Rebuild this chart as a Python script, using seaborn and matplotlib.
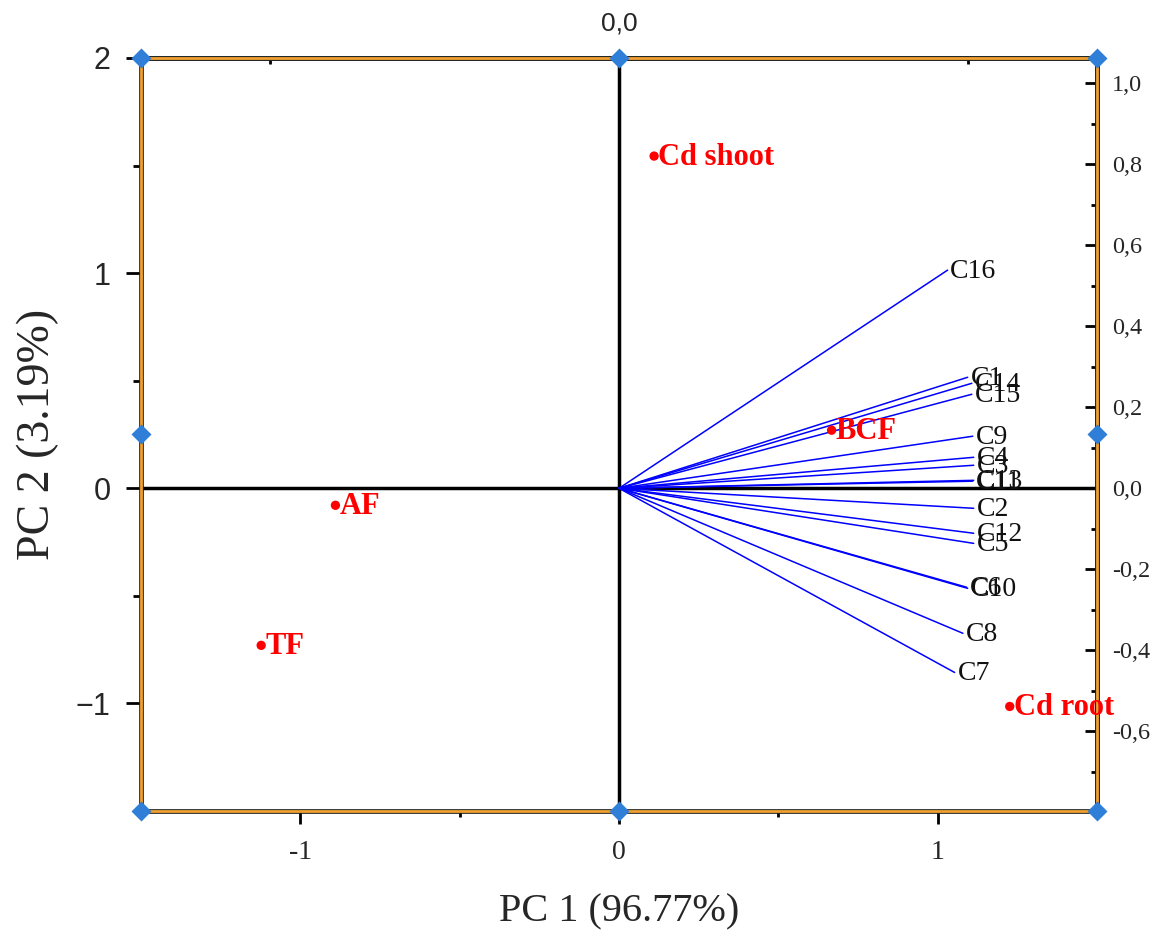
"""
PCA biplot (PC1 vs PC2) of Cd uptake indices and C1-C16 loadings.
"""
import numpy as np
import pandas as pd
import matplotlib
matplotlib.use("Agg")
import matplotlib.pyplot as plt
import matplotlib.patheffects as pe
from matplotlib.ticker import FixedLocator, FuncFormatter
import seaborn as sns

# Loadings: end point of every blue vector (PC1, PC2)
var_names = ["C1", "C2", "C3", "C4", "C5", "C6", "C7", "C8",
             "C9", "C10", "C11", "C12", "C13", "C14", "C15", "C16"]
var_pc1 = [1.094, 1.113, 1.113, 1.113, 1.113, 1.091, 1.053, 1.079,
           1.110, 1.094, 1.110, 1.113, 1.113, 1.107, 1.107, 1.031]
var_pc2 = [0.516, -0.093, 0.107, 0.144, -0.256, -0.460, -0.856, -0.674,
           0.242, -0.465, 0.033, -0.209, 0.037, 0.488, 0.437, 1.014]

# Scores: red points
score_names = ["Cd shoot", "BCF", "AF", "TF", "Cd root"]
score_pc1 = [0.110, 0.667, -0.890, -1.123, 1.226]
score_pc2 = [1.544, 0.270, -0.079, -0.730, -1.014]

xlabel = "PC 1 (96.77%)"
ylabel = "PC 2 (3.19%)"

# scale of the secondary (loading) axes relative to the main ones
k_right = 0.531
k_top = 0.456

SERIF = "Liberation Serif"
SANS = "Liberation Sans"
ORANGE = "#F0A030"
HANDLE = "#2F7FD8"

sns.set_style("white")
plt.rcParams["font.family"] = [SERIF, "DejaVu Serif"]
plt.rcParams["axes.unicode_minus"] = False

# long format table for the vectors: origin -> end point for each variable
rows = []
for name, x, y in zip(var_names, var_pc1, var_pc2):
    rows.append({"var": name, "pc1": 0.0, "pc2": 0.0})
    rows.append({"var": name, "pc1": x, "pc2": y})
vec_df = pd.DataFrame(rows)
score_df = pd.DataFrame({"name": score_names, "pc1": score_pc1, "pc2": score_pc2})

fig = plt.figure(figsize=(11.56, 9.32), dpi=100)
ax = fig.add_axes([0.122, 0.1298, 0.827, 0.808])

ax.axhline(0, color="black", lw=2.5, zorder=1)
ax.axvline(0, color="black", lw=2.5, zorder=1)

sns.lineplot(data=vec_df, x="pc1", y="pc2", units="var", estimator=None,
             sort=False, color="blue", lw=1.1, ax=ax, zorder=2)
sns.scatterplot(data=score_df, x="pc1", y="pc2", color="red", s=45,
                edgecolor="none", ax=ax, zorder=5, legend=False)

for name, x, y in zip(var_names, var_pc1, var_pc2):
    ax.annotate(name, (x, y), xytext=(2, -1), textcoords="offset points",
                ha="left", va="center", fontsize=20, color="#111111",
                family=SERIF, zorder=4)
for name, x, y in zip(score_names, score_pc1, score_pc2):
    ax.annotate(name, (x, y), xytext=(3, -1), textcoords="offset points",
                ha="left", va="center", fontsize=22, color="red",
                fontweight="bold", family=SERIF, zorder=6)

ax.set_xlim(-1.5, 1.5)
ax.set_ylim(-1.5, 2.0)

ax.xaxis.set_major_locator(FixedLocator([-1, 0, 1]))
ax.xaxis.set_minor_locator(FixedLocator([-0.5, 0.5]))
ax.yaxis.set_major_locator(FixedLocator([-1, 0, 1, 2]))
ax.yaxis.set_minor_locator(FixedLocator([-0.5, 0.5, 1.5]))
ax.xaxis.set_major_formatter(FuncFormatter(lambda v, p: f"{v:g}"))
ax.yaxis.set_major_formatter(FuncFormatter(lambda v, p: f"{v:g}".replace("-", "\u2212")))

ax.tick_params(left=True, bottom=True, top=False, right=False, which="both")
ax.tick_params(axis="x", which="major", direction="out", length=9, width=2,
               pad=12, labelsize=20, color="black")
ax.tick_params(axis="x", which="minor", direction="out", length=4, width=2,
               color="black")
ax.tick_params(axis="y", which="major", direction="out", length=11, width=2,
               pad=11, labelsize=22, color="black")
ax.tick_params(axis="y", which="minor", direction="out", length=6, width=2,
               color="black")
for lab in ax.get_yticklabels():
    lab.set_family(SANS)

ax.set_xlabel(xlabel, fontsize=29, labelpad=20, family=SERIF)
ax.set_ylabel(ylabel, fontsize=33, labelpad=12, family=SERIF)

# loading axes on the right and top
secy = ax.secondary_yaxis("right", functions=(lambda v: v * k_right,
                                              lambda v: v / k_right))
secy.yaxis.set_major_locator(FixedLocator(np.round(np.arange(-0.6, 1.01, 0.2), 1)))
secy.yaxis.set_minor_locator(FixedLocator(np.round(np.arange(-0.7, 1.06, 0.1), 1)))
secy.yaxis.set_major_formatter(FuncFormatter(lambda v, p: f"{v:.1f}".replace(".", ",")))
secy.tick_params(which="major", direction="in", length=9, width=2, pad=11,
                 labelsize=17.5, color="black")
secy.tick_params(which="minor", direction="in", length=4, width=2, color="black")

secx = ax.secondary_xaxis("top", functions=(lambda v: v * k_top,
                                            lambda v: v / k_top))
secx.xaxis.set_major_locator(FixedLocator([0.0]))
secx.xaxis.set_minor_locator(FixedLocator([-0.5, 0.5]))
secx.xaxis.set_major_formatter(FuncFormatter(lambda v, p: f"{v:.1f}".replace(".", ",")))
secx.tick_params(which="major", direction="in", length=6, width=2, pad=16,
                 labelsize=19, color="black")
secx.tick_params(which="minor", direction="in", length=4, width=2, color="black")
for lab in secx.get_xticklabels():
    lab.set_family(SANS)

frame_fx = [pe.Stroke(linewidth=3.4, foreground="#222222"), pe.Normal()]
for sp in ax.spines.values():
    sp.set_color(ORANGE)
    sp.set_linewidth(2.0)
    sp.set_path_effects(frame_fx)
for sec, side in ((secy, "right"), (secx, "top")):
    sp = sec.spines[side]
    sp.set_color(ORANGE)
    sp.set_linewidth(2.0)
    sp.set_path_effects(frame_fx)

# selection handles around the frame
for hx, hy in [(0, 0), (0.5, 0), (1, 0), (0, 0.5), (1, 0.5), (0, 1), (0.5, 1), (1, 1)]:
    ax.plot(hx, hy, marker="D", ms=10, color=HANDLE, mec="none",
            transform=ax.transAxes, clip_on=False, zorder=20)

fig.savefig("out.png", dpi=100)
plt.close(fig)
